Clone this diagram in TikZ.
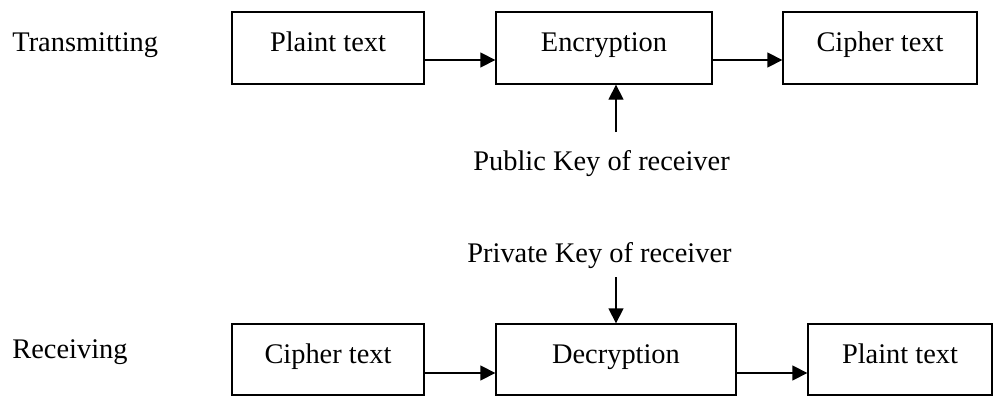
\documentclass[tikz,border=0pt]{standalone}
\usepackage{fontspec}
\setmainfont{Liberation Serif}
\usetikzlibrary{arrows.meta}

\tikzset{
	block/.style={draw, line width=0.65pt, minimum height=36pt, text height=9.5pt, text depth=5.5pt, inner sep=0pt},
	flow/.style={line width=0.65pt, -{Triangle[length=7.5pt,width=7.5pt]}},
	side/.style={inner sep=0pt, anchor=base west}
}

\begin{document}
\begin{tikzpicture}[x=0.5pt, y=-0.5pt, font=\fontsize{14.2}{17}\selectfont]
		\newcommand{\topRow}{48}
		\newcommand{\botRow}{359.5}
		\newcommand{\keyX}{616}
		
		\useasboundingbox (0,0) rectangle (993,396);		% page
		
		% transmitting row
		\node[side] (sendLbl) at (12,52) {Transmitting};
		\node[block, minimum width=96pt] (plainTx) at (328,\topRow) {Plaint text};
		\node[block, minimum width=108pt] (encrypt) at (604,\topRow) {Encryption};
		\node[block, minimum width=97pt] (cipherTx) at (880,\topRow) {Cipher text};
		
		\draw[flow] ([yshift=-6pt]plainTx.east) -- ([yshift=-6pt]encrypt.west);
		\draw[flow] ([yshift=-6pt]encrypt.east) -- ([yshift=-6pt]cipherTx.west);
		
		% public key goes up into the encryption box
		\node[side] (pubKey) at (473,170) {Public Key of receiver};
		\coordinate (pubEnd) at (\keyX,132);
		\draw[flow] (pubEnd) -- (pubEnd |- encrypt.south);
		
		% receiving row
		\node[side] (recvLbl) at (12,358) {Receiving};
		\node[block, minimum width=96pt, minimum height=35.5pt] (cipherRx) at (328,\botRow) {Cipher text};
		\node[block, minimum width=120pt, minimum height=35.5pt] (decrypt) at (616,\botRow) {Decryption};
		\node[block, minimum width=92pt, minimum height=35.5pt] (plainRx) at (900,\botRow) {Plaint text};
		
		\draw[flow] ([yshift=-6.75pt]cipherRx.east) -- ([yshift=-6.75pt]decrypt.west);
		\draw[flow] ([yshift=-6.75pt]decrypt.east) -- ([yshift=-6.75pt]plainRx.west);
		
		% private key comes down into the decryption box
		\node[side] (privKey) at (467,263) {Private Key of receiver};
		\coordinate (privEnd) at (\keyX,277);
		\draw[flow] (privEnd) -- (privEnd |- decrypt.north);
\end{tikzpicture}
\end{document}
